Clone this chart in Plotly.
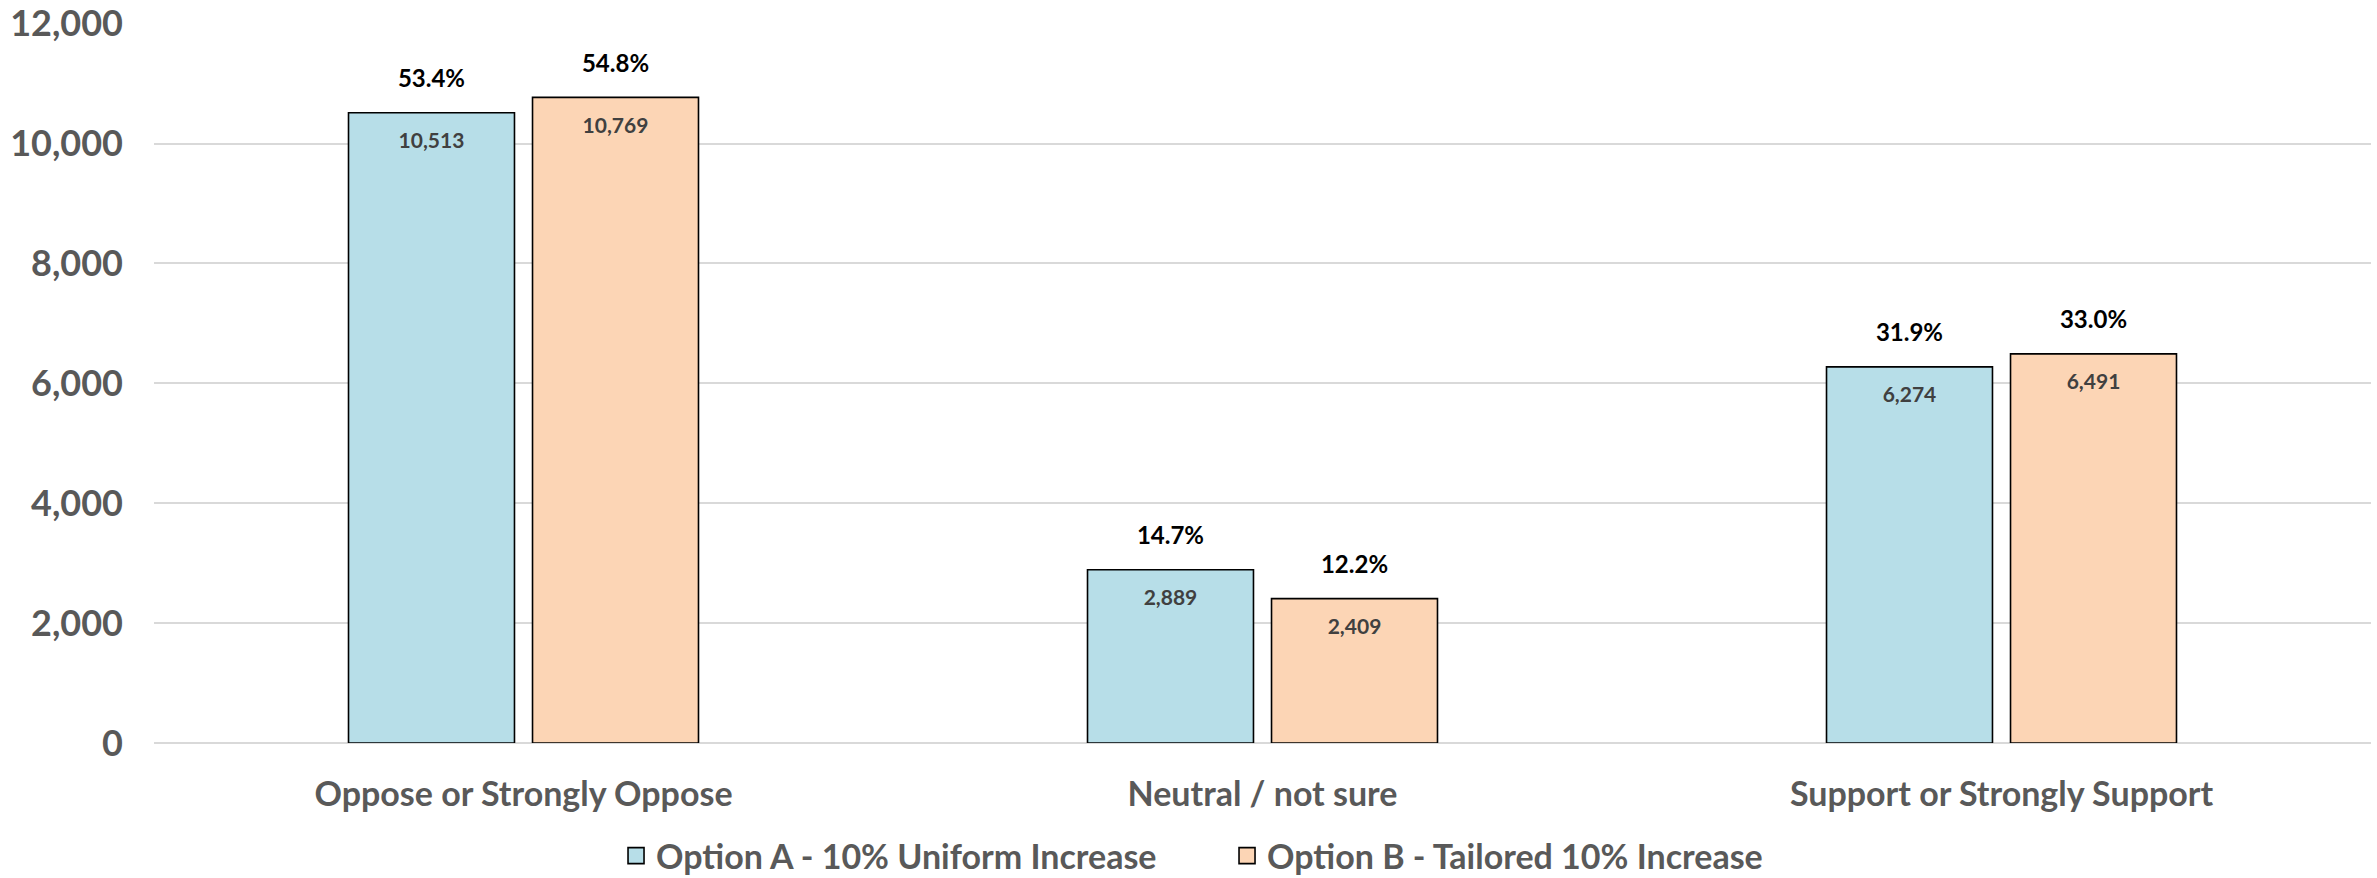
import plotly.graph_objects as go

categories = ["Oppose or Strongly Oppose", "Neutral / not sure", "Support or Strongly Support"]
option_a = [10513, 2889, 6274]
option_b = [10769, 2409, 6491]
pct_a = ["53.4%", "14.7%", "31.9%"]
pct_b = ["54.8%", "12.2%", "33.0%"]
series_names = ["Option A - 10% Uniform Increase", "Option B - Tailored 10% Increase"]
y_ticks = [0, 2000, 4000, 6000, 8000, 10000, 12000]

FONT = "Lato"
GREY = "#595959"
colors = ["#B7DEE8", "#FCD5B5"]

fig = go.Figure()
series = [(series_names[0], option_a, pct_a, colors[0], "A"),
          (series_names[1], option_b, pct_b, colors[1], "B")]

for name, vals, pcts, col, grp in series:
    fig.add_trace(go.Bar(
        x=categories, y=vals, name=name, offsetgroup=grp, showlegend=False,
        marker=dict(color=col, line=dict(color="#000000", width=1.6)),
        hoverinfo="skip",
    ))

for name, vals, pcts, col, grp in series:
    # value labels inside bar top
    fig.add_trace(go.Scatter(
        x=categories, y=vals, mode="markers+text", offsetgroup=grp,
        text=[f"{v:,}" for v in vals], textposition="bottom center",
        textfont=dict(family=FONT, size=21, color="#404040", weight="bold"),
        marker=dict(size=30, color="rgba(0,0,0,0)"),
        showlegend=False, hoverinfo="skip", cliponaxis=False,
    ))
    # percentage labels above bar
    fig.add_trace(go.Scatter(
        x=categories, y=vals, mode="markers+text", offsetgroup=grp,
        text=pcts, textposition="top center",
        textfont=dict(family=FONT, size=24, color="#000000", weight="bold"),
        marker=dict(size=30, color="rgba(0,0,0,0)"),
        showlegend=False, hoverinfo="skip", cliponaxis=False,
    ))

# legend entries (square swatches with black outline)
for name, vals, pcts, col, grp in series:
    fig.add_trace(go.Scatter(
        x=[categories[0]], y=[None], mode="markers", name=name, offsetgroup=grp,
        marker=dict(symbol="square", size=16, color=col, line=dict(color="#000000", width=1.6)),
        hoverinfo="skip",
    ))

fig.update_layout(
    width=2377, height=878,
    margin=dict(l=154, r=6, t=23, b=135, autoexpand=False),
    paper_bgcolor="white", plot_bgcolor="white",
    barmode="group", scattermode="group",
    bargap=0.502, bargroupgap=0.098, scattergap=0.502,
    showlegend=True,
    legend=dict(orientation="h", x=0.484, xanchor="center",
                yref="container", y=0.025, yanchor="middle",
                font=dict(family=FONT, size=34, color=GREY, weight="bold"),
                itemsizing="trace", traceorder="normal", itemwidth=30,
                entrywidth=566, entrywidthmode="pixels"),
    font=dict(family=FONT, color=GREY),
)
fig.update_yaxes(
    range=[0, 12010], tickvals=y_ticks, ticktext=[f"{t:,}" for t in y_ticks],
    showgrid=True, gridcolor="#D9D9D9", gridwidth=1.5,
    zeroline=True, zerolinecolor="#D9D9D9", zerolinewidth=1.5,
    showline=False, ticks="", ticklabelstandoff=30, automargin=False,
    tickfont=dict(family=FONT, size=36, color=GREY, weight="bold"),
)
fig.update_xaxes(
    showgrid=False, showline=False, ticks="", ticklabelstandoff=28, automargin=False,
    tickfont=dict(family=FONT, size=34, color=GREY, weight="bold"),
)

fig.write_html("out.html")
